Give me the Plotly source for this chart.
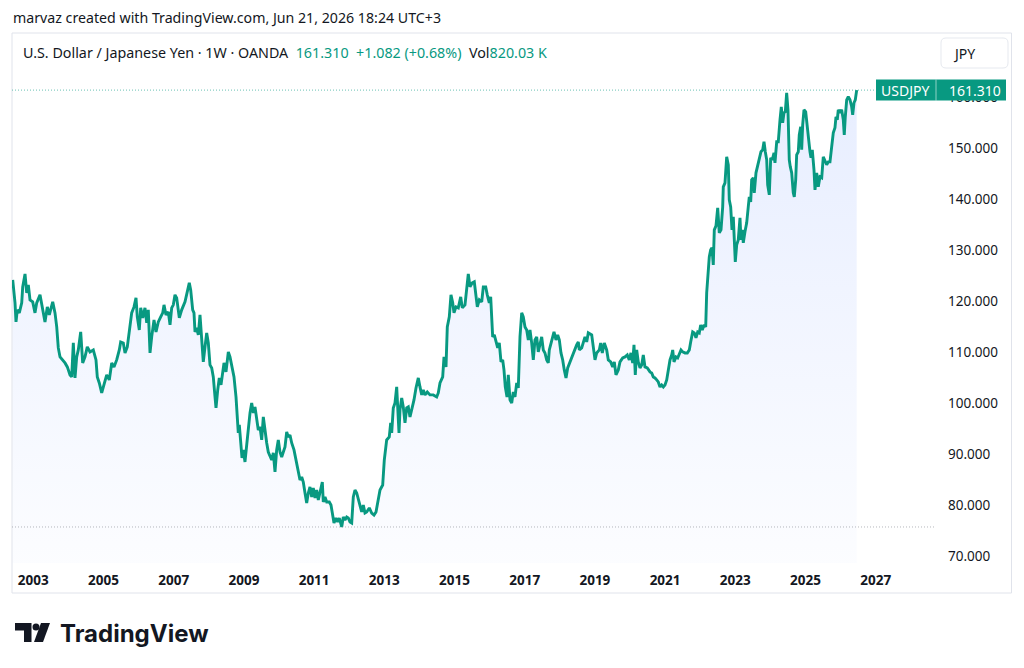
import plotly.graph_objects as go

# ---------------- data (weekly close) ----------------
years = [
    2002.413, 2002.479, 2002.507, 2002.544, 2002.601, 2002.670, 2002.698, 2002.764, 2002.812, 2002.858,
    2002.906, 2002.983, 2003.048, 2003.097, 2003.191, 2003.268, 2003.333, 2003.399, 2003.456, 2003.553,
    2003.618, 2003.667, 2003.712, 2003.761, 2003.838, 2003.903, 2003.969, 2004.046, 2004.094, 2004.140,
    2004.188, 2004.236, 2004.282, 2004.350, 2004.407, 2004.473, 2004.538, 2004.615, 2004.709, 2004.786,
    2004.823, 2004.880, 2004.949, 2005.014, 2005.091, 2005.165, 2005.234, 2005.299, 2005.376, 2005.450,
    2005.490, 2005.564, 2005.613, 2005.678, 2005.735, 2005.803, 2005.869, 2005.926, 2005.963, 2006.020,
    2006.060, 2006.117, 2006.182, 2006.231, 2006.276, 2006.325,
    2006.373, 2006.439, 2006.496, 2006.561, 2006.630, 2006.687, 2006.724, 2006.781, 2006.846, 2006.895,
    2006.943, 2006.989, 2007.037, 2007.085, 2007.160, 2007.228, 2007.322, 2007.387, 2007.444, 2007.484,
    2007.541, 2007.578, 2007.607, 2007.655, 2007.701, 2007.749, 2007.798, 2007.843, 2007.892, 2007.940,
    2007.986, 2008.034, 2008.083, 2008.128, 2008.177, 2008.205, 2008.254, 2008.299, 2008.348, 2008.396,
    2008.433, 2008.490, 2008.556, 2008.604, 2008.652, 2008.718, 2008.775, 2008.812, 2008.840, 2008.869,
    2008.909, 2008.946, 2008.983, 2009.031, 2009.080, 2009.125, 2009.174, 2009.222, 2009.268, 2009.316,
    2009.365, 2009.410, 2009.459, 2009.507, 2009.553, 2009.601, 2009.650, 2009.695, 2009.744, 2009.792,
    2009.838, 2009.886, 2009.934, 2009.980, 2010.028, 2010.077, 2010.123, 2010.171, 2010.219, 2010.265,
    2010.313, 2010.362, 2010.427, 2010.484, 2010.521, 2010.578,
    2010.598, 2010.647, 2010.692, 2010.741, 2010.789, 2010.835, 2010.883, 2010.932, 2010.977, 2011.026,
    2011.074, 2011.120, 2011.168, 2011.234, 2011.262, 2011.311, 2011.359, 2011.433, 2011.481, 2011.530,
    2011.567, 2011.624, 2011.672, 2011.718, 2011.786, 2011.832, 2011.880, 2011.929, 2011.974, 2012.023,
    2012.071, 2012.117, 2012.165, 2012.214, 2012.259, 2012.308, 2012.356, 2012.402, 2012.450, 2012.499,
    2012.573, 2012.641, 2012.707, 2012.764, 2012.829, 2012.878, 2012.954, 2013.000, 2013.068, 2013.142,
    2013.182, 2013.211, 2013.256, 2013.305, 2013.353, 2013.382, 2013.419, 2013.447, 2013.496, 2013.541,
    2013.590, 2013.638, 2013.684, 2013.732, 2013.781, 2013.846, 2013.903, 2013.969, 2014.017, 2014.066,
    2014.111, 2014.160, 2014.225, 2014.302, 2014.396, 2014.493, 2014.538, 2014.587,
    2014.664, 2014.701, 2014.758, 2014.795, 2014.852, 2014.900, 2014.949, 2014.986, 2015.043, 2015.108,
    2015.177, 2015.222, 2015.299, 2015.348, 2015.393, 2015.442, 2015.507, 2015.564, 2015.604, 2015.650,
    2015.707, 2015.775, 2015.821, 2015.889, 2015.934, 2015.991, 2016.031, 2016.088, 2016.134, 2016.182,
    2016.231, 2016.276, 2016.325, 2016.373, 2016.410, 2016.447, 2016.496, 2016.533, 2016.581, 2016.630,
    2016.675, 2016.724, 2016.772, 2016.818, 2016.866, 2016.915, 2016.960, 2017.009, 2017.057, 2017.103,
    2017.151, 2017.199, 2017.245, 2017.293, 2017.342, 2017.387, 2017.436, 2017.484, 2017.530, 2017.578,
    2017.627, 2017.672, 2017.701, 2017.749, 2017.798, 2017.835, 2017.892, 2017.940, 2017.986, 2018.034,
    2018.083, 2018.128, 2018.177, 2018.225, 2018.291, 2018.356, 2018.413, 2018.481, 2018.527, 2018.556,
    2018.624, 2018.718, 2018.766, 2018.812, 2018.909, 2018.954, 2019.003, 2019.051, 2019.125, 2019.165,
    2019.211, 2019.268, 2019.336, 2019.382, 2019.450, 2019.507, 2019.553, 2019.601, 2019.667, 2019.715,
    2019.792, 2019.858, 2019.923, 2019.980, 2020.028, 2020.077, 2020.114, 2020.151, 2020.191, 2020.236,
    2020.285, 2020.333, 2020.379, 2020.427, 2020.493, 2020.570, 2020.618, 2020.664, 2020.712, 2020.761,
    2020.806, 2020.855, 2020.903, 2020.949, 2020.997, 2021.046, 2021.091, 2021.140, 2021.188, 2021.217,
    2021.254, 2021.311, 2021.359, 2021.405, 2021.453, 2021.501, 2021.567, 2021.633, 2021.690, 2021.729,
    2021.786, 2021.832, 2021.880, 2021.929, 2021.974, 2022.014, 2022.060, 2022.108, 2022.157, 2022.185,
    2022.222, 2022.259, 2022.299, 2022.336, 2022.373, 2022.402, 2022.450, 2022.499, 2022.544, 2022.593,
    2022.641, 2022.658, 2022.707, 2022.755, 2022.801, 2022.829, 2022.869, 2022.906, 2022.943, 2022.972,
    2023.000, 2023.040, 2023.085, 2023.134, 2023.162, 2023.199, 2023.228, 2023.276, 2023.325, 2023.370,
    2023.399, 2023.439, 2023.467, 2023.513, 2023.541, 2023.590, 2023.638, 2023.684, 2023.732, 2023.781,
    2023.818, 2023.855, 2023.895, 2023.923, 2023.969, 2024.009, 2024.054, 2024.103, 2024.131, 2024.180,
    2024.225, 2024.274, 2024.311, 2024.350, 2024.387, 2024.425, 2024.464, 2024.501, 2024.538, 2024.567,
    2024.607, 2024.652, 2024.681, 2024.721, 2024.749, 2024.795, 2024.823, 2024.863, 2024.892, 2024.920,
    2024.957, 2025.006, 2025.034, 2025.080, 2025.128, 2025.157, 2025.194, 2025.242, 2025.271, 2025.319,
    2025.365, 2025.413, 2025.462, 2025.507, 2025.556, 2025.604, 2025.650, 2025.698, 2025.746, 2025.792,
    2025.840, 2025.869, 2025.906, 2025.934, 2025.983, 2026.031, 2026.077, 2026.105, 2026.134, 2026.174,
    2026.219, 2026.268, 2026.316, 2026.345, 2026.382, 2026.419, 2026.459,
]

close = [
    124.12, 119.61, 115.88, 118.24, 117.65, 119.61, 122.75, 125.29, 121.57, 123.14,
    120.20, 119.80, 117.65, 119.61, 121.18, 118.24, 115.88, 118.82, 117.25, 119.80,
    117.65, 114.90, 110.78, 109.02, 108.43, 107.84, 107.06, 105.49, 105.10, 111.76,
    104.90, 109.02, 110.39, 113.92, 107.84, 109.02, 110.98, 110.00, 110.39, 108.43,
    105.10, 103.92, 101.96, 103.53, 105.49, 104.51, 107.84, 107.06, 108.43, 110.39,
    111.96, 111.76, 109.80, 110.98, 113.73, 117.65, 118.82, 120.59, 116.86, 114.31,
    118.63, 116.67, 118.63, 115.69, 118.24, 109.80,
    112.94, 116.27, 113.92, 115.88, 116.86, 117.65, 119.22, 117.25, 117.84, 115.29,
    118.63, 119.22, 121.18, 120.59, 116.67, 118.24, 119.80, 121.76, 123.53, 122.16,
    118.24, 117.65, 113.92, 114.71, 113.33, 117.25, 113.33, 108.04, 110.98, 113.73,
    111.76, 107.45, 106.86, 105.10, 101.18, 99.02, 102.55, 104.90, 103.53, 106.08,
    107.84, 106.08, 110.00, 109.02, 107.45, 105.10, 101.18, 98.04, 94.12, 95.69,
    92.16, 89.22, 90.80, 88.43, 91.78, 95.29, 98.04, 100.00, 98.04, 99.22,
    97.25, 94.71, 95.29, 92.75, 97.25, 94.12, 92.16, 90.39, 89.41, 88.82,
    90.21, 86.47, 90.80, 92.75, 90.39, 89.41, 90.39, 91.39, 94.31, 93.33,
    93.73, 92.16, 90.80, 88.82, 87.45, 85.49,
    84.90, 85.49, 84.51, 82.35, 80.39, 82.35, 83.53, 81.57, 83.33, 81.37,
    82.94, 80.98, 82.35, 84.51, 80.59, 81.57, 80.59, 80.59, 80.00, 78.04,
    76.47, 77.45, 76.67, 77.45, 75.69, 77.65, 77.06, 77.65, 77.45, 76.67,
    76.47, 81.57, 82.94, 82.35, 80.98, 79.61, 78.63, 80.00, 78.43, 78.63,
    79.41, 78.43, 78.04, 78.63, 81.57, 82.94, 83.92, 88.82, 92.75, 93.33,
    96.08, 94.12, 99.02, 100.00, 103.14, 99.22, 94.12, 98.63, 100.98, 99.22,
    96.08, 99.02, 99.22, 97.25, 98.63, 100.59, 102.94, 104.90, 103.14, 101.57,
    102.55, 101.57, 102.16, 101.57, 101.57, 101.18, 101.96, 103.92,
    105.10, 109.02, 107.06, 114.90, 116.86, 121.18, 119.61, 117.65, 118.82, 118.63,
    120.78, 118.63, 119.22, 122.75, 125.29, 122.75, 123.53, 123.73, 121.76, 118.82,
    120.20, 119.80, 122.75, 122.75, 121.18, 119.61, 120.78, 112.94, 113.33, 111.96,
    110.78, 111.76, 108.04, 108.43, 106.47, 103.14, 101.18, 105.49, 100.59, 100.00,
    102.16, 101.18, 103.92, 102.94, 112.94, 117.65, 116.86, 114.90, 114.31, 112.35,
    114.31, 111.76, 108.43, 112.35, 112.94, 110.00, 111.37, 112.94, 110.39, 109.80,
    108.43, 107.84, 110.39, 111.96, 112.94, 113.92, 112.35, 113.33, 112.35, 109.80,
    108.43, 106.47, 104.90, 106.86, 108.04, 109.41, 110.39, 111.37, 111.96, 110.39,
    110.78, 112.94, 111.96, 113.73, 113.33, 111.37, 108.43, 109.80, 110.39, 111.76,
    109.80, 111.76, 110.39, 108.43, 108.04, 107.06, 108.04, 105.49, 106.47, 108.04,
    108.82, 109.02, 109.41, 108.43, 109.80, 107.84, 111.37, 105.49, 110.39, 108.04,
    106.86, 107.45, 109.41, 107.06, 106.86, 106.08, 105.88, 105.10, 104.90, 104.51,
    104.12, 103.14, 103.53, 103.14, 103.53, 104.51, 106.47, 108.43, 109.41, 110.39,
    108.04, 109.02, 108.82, 109.80, 110.39, 110.00, 109.80, 109.80, 110.39, 111.96,
    113.92, 113.73, 112.75, 113.92, 113.73, 115.29, 114.31, 115.29, 114.90, 121.57,
    124.71, 128.63, 130.00, 130.39, 127.06, 133.92, 134.71, 138.24, 133.33, 133.92,
    138.43, 142.35, 143.14, 148.24, 146.67, 139.80, 138.43, 133.92, 136.47, 131.37,
    127.65, 130.98, 131.96, 136.27, 131.96, 133.92, 131.37, 133.53, 135.29, 138.43,
    140.39, 139.41, 143.73, 144.12, 141.18, 145.10, 146.67, 148.24, 149.22, 149.61,
    151.18, 149.22, 147.65, 142.75, 140.78, 148.04, 147.65, 149.02, 147.06, 151.18,
    151.18, 155.49, 158.04, 154.90, 156.86, 157.06, 160.78, 157.45, 147.65, 146.27,
    145.10, 141.18, 140.39, 143.73, 148.63, 149.22, 152.55, 154.12, 149.61, 154.51,
    157.45, 157.06, 154.90, 151.57, 149.22, 148.04, 149.61, 145.69, 141.76, 145.10,
    142.35, 144.31, 144.12, 148.24, 147.25, 146.67, 147.25, 147.25, 150.20, 152.94,
    153.92, 156.08, 155.49, 157.45, 156.86, 157.45, 155.49, 152.55, 156.08, 159.41,
    160.00, 159.41, 158.04, 156.47, 158.82, 159.41, 161.31,
]

year_ticks = [2003, 2005, 2007, 2009, 2011, 2013, 2015, 2017, 2019, 2021, 2023, 2025, 2027]
year_labels = [str(y) for y in year_ticks]
price_ticks = [70, 80, 90, 100, 110, 120, 130, 140, 150, 160]

symbol = "USDJPY"
pair_name = "U.S. Dollar / Japanese Yen · 1W · OANDA"
last_close = close[-1]
change_abs = 1.082
change_pct = 0.68
volume_text = "820.03 K"
currency = "JPY"
credit = "marvaz created with TradingView.com, Jun 21, 2026 18:24 UTC+3"

# ---------------- styling ----------------
GREEN = "#089981"
TEXT = "#131722"
BORDER = "#e0e3eb"
FONT = "Noto Sans, Liberation Sans, sans-serif"

W, H = 1024, 668
ML, MR, MT, MB = 12, 89, 33, 105
PW = W - ML - MR
PH = H - MT - MB

x_range = [2002.393, 2028.69]
y_range = [68.63, 172.5]


def px(x):
    return (x - ML) / PW


def py(y):
    return (H - MB - y) / PH


def path_px(points):
    s = ""
    for i, (a, b) in enumerate(points):
        s += ("M" if i == 0 else "L") + f"{px(a):.5f},{py(b):.5f} "
    return s + "Z"


def rounded_rect(x0, y0, x1, y1, r):
    return (f"M{px(x0 + r):.5f},{py(y0):.5f} L{px(x1 - r):.5f},{py(y0):.5f} "
            f"Q{px(x1):.5f},{py(y0):.5f} {px(x1):.5f},{py(y0 + r):.5f} "
            f"L{px(x1):.5f},{py(y1 - r):.5f} Q{px(x1):.5f},{py(y1):.5f} {px(x1 - r):.5f},{py(y1):.5f} "
            f"L{px(x0 + r):.5f},{py(y1):.5f} Q{px(x0):.5f},{py(y1):.5f} {px(x0):.5f},{py(y1 - r):.5f} "
            f"L{px(x0):.5f},{py(y0 + r):.5f} Q{px(x0):.5f},{py(y0):.5f} {px(x0 + r):.5f},{py(y0):.5f} Z")


fig = go.Figure()
fig.add_trace(go.Scatter(
    x=years, y=close, mode="lines",
    line=dict(color=GREEN, width=2.9),
    fill="tozeroy",
    fillgradient=dict(type="vertical",
                      colorscale=[[0, "rgba(41,98,255,0.015)"], [1, "rgba(41,98,255,0.11)"]],
                      start=y_range[0], stop=max(close)),
    hoverinfo="skip", showlegend=False,
))

shapes = [
    # chart frame
    dict(type="rect", xref="paper", yref="paper", x0=px(12), x1=px(1011.5), y0=py(593), y1=py(33),
         line=dict(color=BORDER, width=1), fillcolor="rgba(0,0,0,0)", layer="below"),
    # last price line
    dict(type="line", xref="paper", yref="y", x0=0, x1=1, y0=last_close, y1=last_close,
         line=dict(color="rgba(8,153,129,0.6)", width=1, dash="1px,2px")),
    # lowest close line
    dict(type="line", xref="paper", yref="y", x0=0, x1=1, y0=min(close), y1=min(close),
         line=dict(color="rgba(120,123,134,0.55)", width=1, dash="1px,2px")),
    # price label box
    dict(type="rect", xref="paper", yref="y", x0=px(876), x1=px(1006), ysizemode="pixel",
         yanchor=last_close, y0=-10.5, y1=10.5, fillcolor=GREEN, line=dict(width=0), layer="above"),
    dict(type="line", xref="paper", yref="y", x0=px(936), x1=px(936), ysizemode="pixel",
         yanchor=last_close, y0=-10.5, y1=10.5, line=dict(color="rgba(255,255,255,0.55)", width=1),
         layer="above"),
    # price-scale clip below the pane (cuts the lowest tick label like the original)
    dict(type="rect", xref="paper", yref="paper", x0=px(937), x1=px(1010.5), y0=py(592), y1=py(562.5),
         fillcolor="white", line=dict(width=0), layer="above"),
    # currency button
    dict(type="path", xref="paper", yref="paper", path=rounded_rect(941, 38, 1008, 68, 5),
         fillcolor="white", line=dict(color="#e6e9ef", width=1), layer="above"),
    # TradingView logo icon
    dict(type="path", xref="paper", yref="paper",
         path=path_px([(15, 623), (31.5, 623), (31.5, 642), (24, 642), (24, 630.5), (15, 630.5)]),
         fillcolor=TEXT, line=dict(width=0)),
    dict(type="circle", xref="paper", yref="paper", x0=px(32.5), x1=px(39.5), y0=py(630.5), y1=py(623.5),
         fillcolor=TEXT, line=dict(width=0)),
    dict(type="path", xref="paper", yref="paper",
         path=path_px([(41, 623), (50, 623), (43, 642), (34, 642)]),
         fillcolor=TEXT, line=dict(width=0)),
]

sign = "+" if change_abs >= 0 else "−"
legend_html = (
    f"{pair_name}&nbsp;&nbsp;"
    f"<span style='color:{GREEN}'>{last_close:.3f}&nbsp;&nbsp;{sign}{abs(change_abs):.3f} ({sign}{abs(change_pct):.2f}%)</span>"
    f"&nbsp;&nbsp;Vol<span style='color:{GREEN}'>{volume_text}</span>"
)

annotations = [
    dict(text=credit, xref="paper", yref="paper", x=px(11), y=py(17), xanchor="left", yanchor="middle",
         showarrow=False, font=dict(family=FONT, size=14.2, color=TEXT)),
    dict(text=legend_html, xref="paper", yref="paper", x=px(21), y=py(52), xanchor="left",
         yanchor="middle", showarrow=False, font=dict(family=FONT, size=14.3, color=TEXT)),
    dict(text=symbol, xref="paper", yref="y", x=px(879), y=last_close, xanchor="left", yanchor="middle",
         showarrow=False, font=dict(family=FONT, size=14, color="white")),
    dict(text=f"{last_close:.3f}", xref="paper", yref="y", x=px(947), y=last_close, xanchor="left",
         yanchor="middle", showarrow=False, font=dict(family=FONT, size=14, color="white")),
    dict(text=currency, xref="paper", yref="paper", x=px(951), y=py(53.5), xanchor="left",
         yanchor="middle", showarrow=False, font=dict(family=FONT, size=14, color=TEXT)),
    dict(text="<b>TradingView</b>", xref="paper", yref="paper", x=px(58), y=py(633), xanchor="left",
         yanchor="middle", showarrow=False, font=dict(family="Inter, Noto Sans, sans-serif", size=24, color=TEXT)),
]

fig.update_layout(
    width=W, height=H,
    margin=dict(l=ML, r=MR, t=MT, b=MB, pad=0),
    paper_bgcolor="white", plot_bgcolor="white",
    font=dict(family=FONT, color=TEXT),
    showlegend=False,
    shapes=shapes,
    annotations=annotations,
    xaxis=dict(range=x_range, tickmode="array", tickvals=year_ticks, ticktext=year_labels,
               showgrid=False, zeroline=False, showline=False, ticks="",
               tickfont=dict(family=FONT, size=13.5, color=TEXT, weight="bold"),
               ticklabelstandoff=7, fixedrange=True),
    yaxis=dict(range=y_range, side="right", tickmode="array", tickvals=price_ticks,
               tickformat=".3f", showgrid=False, zeroline=False, showline=False, ticks="",
               tickfont=dict(family=FONT, size=13.5, color=TEXT),
               ticklabelstandoff=12, fixedrange=True),
)

fig.write_html("out.html")
